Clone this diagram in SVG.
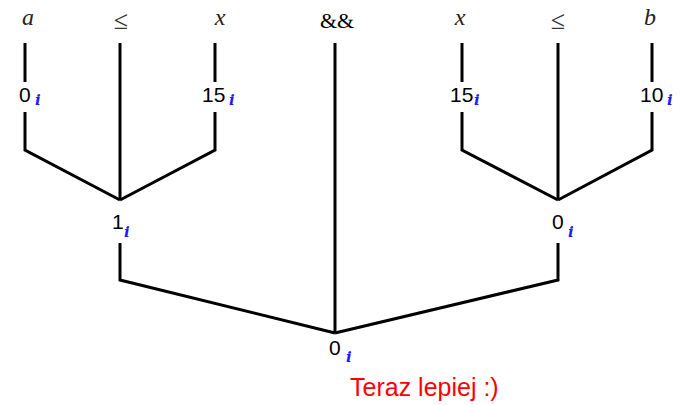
<svg xmlns="http://www.w3.org/2000/svg" width="680" height="405" viewBox="0 0 680 405">
<style>
.e{stroke:#000;stroke-width:3;fill:none;stroke-linejoin:miter}
.m{font-family:"Liberation Serif",serif;font-style:italic;font-size:24px;fill:#222}
.s{font-family:"Liberation Serif","DejaVu Serif",serif;font-size:26px;fill:#333}
.n{font-family:"Liberation Sans",Arial,sans-serif;font-size:21px;fill:#000}
.i{font-family:"DejaVu Serif",serif;font-style:italic;font-weight:bold;font-size:15px;fill:#1a1aff}
.r{font-family:"Liberation Sans",Arial,sans-serif;font-size:25px;fill:#ff0000}
</style>
<rect width="680" height="405" fill="#fff"/>
<g id="connectors">
<path class="e" d="M25,43V82M25,112V150L120,200"/>
<path class="e" d="M120,43V200"/>
<path class="e" d="M215,43V82M215,112V150L120,200"/>
<path class="e" d="M462,43V82M462,112V150L558,200"/>
<path class="e" d="M558,43V200"/>
<path class="e" d="M652,43V82M652,112V150L558,200"/>
<path class="e" d="M120,243V280L335,333"/>
<path class="e" d="M558,243V280L335,333"/>
<path class="e" d="M335,43V333"/>
</g>
<g id="t_a"><text class="m" x="28" y="25" text-anchor="middle">a</text></g>
<g id="t_le1"><text class="s" x="121" y="29" text-anchor="middle">≤</text></g>
<g id="t_x1"><text class="m" x="220" y="25" text-anchor="middle">x</text></g>
<g id="t_and"><text x="337" y="28" text-anchor="middle" style="font-family:'Liberation Serif',serif;font-size:22px;fill:#000">&amp;&amp;</text></g>
<g id="t_x2"><text class="m" x="460" y="25" text-anchor="middle">x</text></g>
<g id="t_le2"><text class="s" x="558" y="29" text-anchor="middle">≤</text></g>
<g id="t_b"><text class="m" x="650" y="25" text-anchor="middle">b</text></g>
<g id="l_a"><text class="n" x="19" y="102">0</text><text class="i" x="35" y="105">i</text></g>
<g id="l_x1"><text class="n" x="202" y="102">15</text><text class="i" x="229" y="105">i</text></g>
<g id="l_x2"><text class="n" x="450" y="102">15</text><text class="i" x="474" y="105">i</text></g>
<g id="l_b"><text class="n" x="640" y="102">10</text><text class="i" x="667" y="105">i</text></g>
<g id="n_left"><text class="n" x="112" y="229">1</text><text class="i" x="124" y="237">i</text></g>
<g id="n_right"><text class="n" x="552" y="229">0</text><text class="i" x="568" y="237">i</text></g>
<g id="n_root"><text class="n" x="329" y="355">0</text><text class="i" x="346" y="362">i</text></g>
<g id="caption"><text class="r" x="350" y="396">Teraz lepiej :)</text></g>
</svg>
